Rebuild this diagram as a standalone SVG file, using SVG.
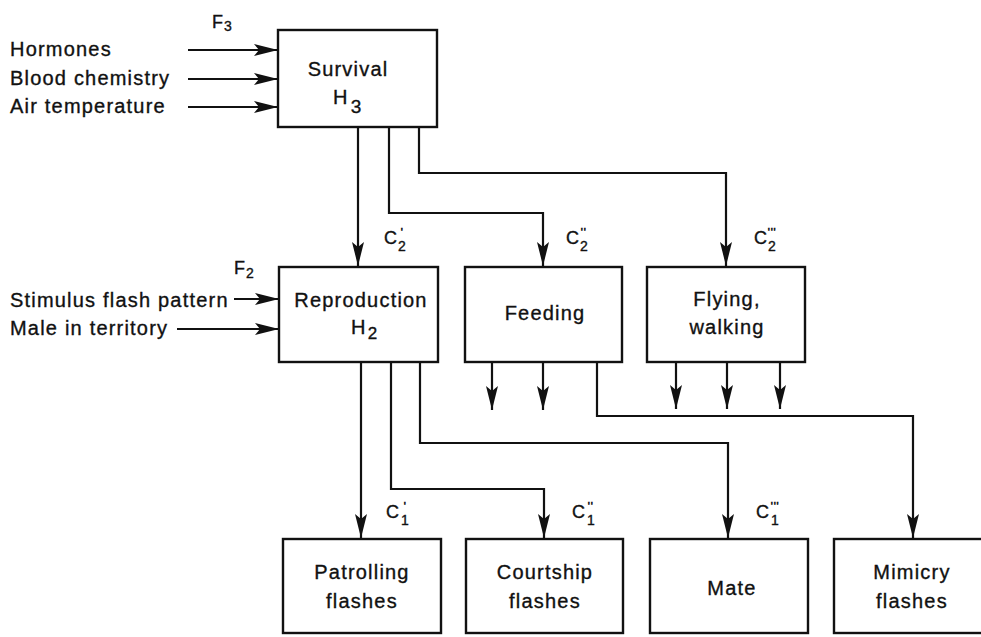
<svg xmlns="http://www.w3.org/2000/svg" width="981" height="637" viewBox="0 0 981 637">
  <style>
    .box { fill: #fff; stroke: #111; stroke-width: 2.4; }
    .wire { fill: none; stroke: #111; stroke-width: 2.2; }
    text { font-family: "Liberation Sans", Arial, sans-serif; fill: #111; stroke: #111; stroke-width: 0.35px; }
    .lbl { font-size: 20px; letter-spacing: 1.2px; }
    .mid { text-anchor: middle; }
    .sym { font-size: 18px; }
    .sub { font-size: 14px; }
    .prm { font-size: 11px; letter-spacing: 0.8px; stroke-width: 0.6px; }
  </style>
  <defs>
    <marker id="head" markerUnits="userSpaceOnUse" markerWidth="26" markerHeight="14" viewBox="-25 -7 26 14" refX="0" refY="0" orient="auto">
      <path d="M0,0 L-24,-6 L-19,0 L-24,6 Z" fill="#111"/>
    </marker>
  </defs>

  <rect width="981" height="637" fill="#fff"/>

  <!-- connectors -->
  <g id="connectors" class="wire" marker-end="url(#head)">
    <!-- external inputs -->
    <path d="M188,50 H278"/>
    <path d="M188,79 H278"/>
    <path d="M188,107 H278"/>
    <path d="M234,299 H279"/>
    <path d="M177,329 H279"/>
    <!-- survival to level 2 -->
    <path d="M358,127 V266"/>
    <path d="M389,127 V213 H543 V266"/>
    <path d="M419,127 V173 H726 V266"/>
    <!-- reproduction to level 1 -->
    <path d="M361,362 V538"/>
    <path d="M391,362 V489 H544 V538"/>
    <path d="M420,362 V443 H728 V538"/>
    <!-- feeding outputs -->
    <path d="M492,362 V410"/>
    <path d="M543,362 V410"/>
    <path d="M597,362 V416 H913 V538"/>
    <!-- flying outputs -->
    <path d="M676,362 V409"/>
    <path d="M727,362 V409"/>
    <path d="M780,362 V409"/>
  </g>

  <!-- input labels -->
  <g id="inputs">
    <text class="lbl" x="10" y="56">Hormones</text>
    <text class="lbl" x="10" y="85">Blood chemistry</text>
    <text class="lbl" x="10" y="113">Air temperature</text>
    <text class="lbl" x="10" y="307">Stimulus flash pattern</text>
    <text class="lbl" x="10" y="335">Male in territory</text>
    <text class="sym" x="212" y="28">F<tspan class="sub" dx="1" dy="3">3</tspan></text>
    <text class="sym" x="234" y="274">F<tspan class="sub" dx="1" dy="4">2</tspan></text>
  </g>

  <g id="survival">
    <rect class="box" x="278" y="30" width="159" height="97"/>
    <text class="lbl mid" x="348" y="76">Survival</text>
    <text class="lbl" x="333" y="104">H<tspan dx="2" dy="9" style="font-size:19px">3</tspan></text>
  </g>

  <g id="reproduction">
    <rect class="box" x="279" y="267" width="159" height="95"/>
    <text class="lbl mid" x="361" y="307">Reproduction</text>
    <text class="lbl" x="351" y="334">H<tspan dx="1" dy="5" style="font-size:17px">2</tspan></text>
  </g>

  <g id="feeding">
    <rect class="box" x="465" y="267" width="157" height="95"/>
    <text class="lbl mid" x="545" y="320">Feeding</text>
  </g>

  <g id="flying">
    <rect class="box" x="647" y="267" width="158" height="95"/>
    <text class="lbl mid" x="727" y="306">Flying,</text>
    <text class="lbl mid" x="727" y="334">walking</text>
  </g>

  <g id="patrolling">
    <rect class="box" x="283" y="539" width="158" height="94"/>
    <text class="lbl mid" x="362" y="579">Patrolling</text>
    <text class="lbl mid" x="362" y="608">flashes</text>
  </g>

  <g id="courtship">
    <rect class="box" x="466" y="539" width="157" height="94"/>
    <text class="lbl mid" x="545" y="579">Courtship</text>
    <text class="lbl mid" x="545" y="608">flashes</text>
  </g>

  <g id="mate">
    <rect class="box" x="650" y="539" width="158" height="94"/>
    <text class="lbl mid" x="732" y="595">Mate</text>
  </g>

  <g id="mimicry">
    <rect class="box" x="834" y="539" width="158" height="94"/>
    <text class="lbl mid" x="912" y="579">Mimicry</text>
    <text class="lbl mid" x="912" y="608">flashes</text>
  </g>

  <!-- command labels: C with level subscript and primes above it -->
  <g id="commands">
    <text class="sym" x="384" y="244">C<tspan class="sub" dx="1" dy="7">2</tspan><tspan class="prm" dx="-5" dy="-15">'</tspan></text>
    <text class="sym" x="566" y="244">C<tspan class="sub" dx="1" dy="7">2</tspan><tspan class="prm" dx="-7" dy="-15">''</tspan></text>
    <text class="sym" x="754" y="244">C<tspan class="sub" dx="1" dy="7">2</tspan><tspan class="prm" dx="-8" dy="-15">'''</tspan></text>
    <text class="sym" x="386" y="518">C<tspan class="sub" dx="2" dy="7">1</tspan><tspan class="prm" dx="-5" dy="-15">'</tspan></text>
    <text class="sym" x="572" y="518">C<tspan class="sub" dx="2" dy="7">1</tspan><tspan class="prm" dx="-7" dy="-15">''</tspan></text>
    <text class="sym" x="756" y="518">C<tspan class="sub" dx="2" dy="7">1</tspan><tspan class="prm" dx="-8" dy="-15">'''</tspan></text>
  </g>
</svg>
